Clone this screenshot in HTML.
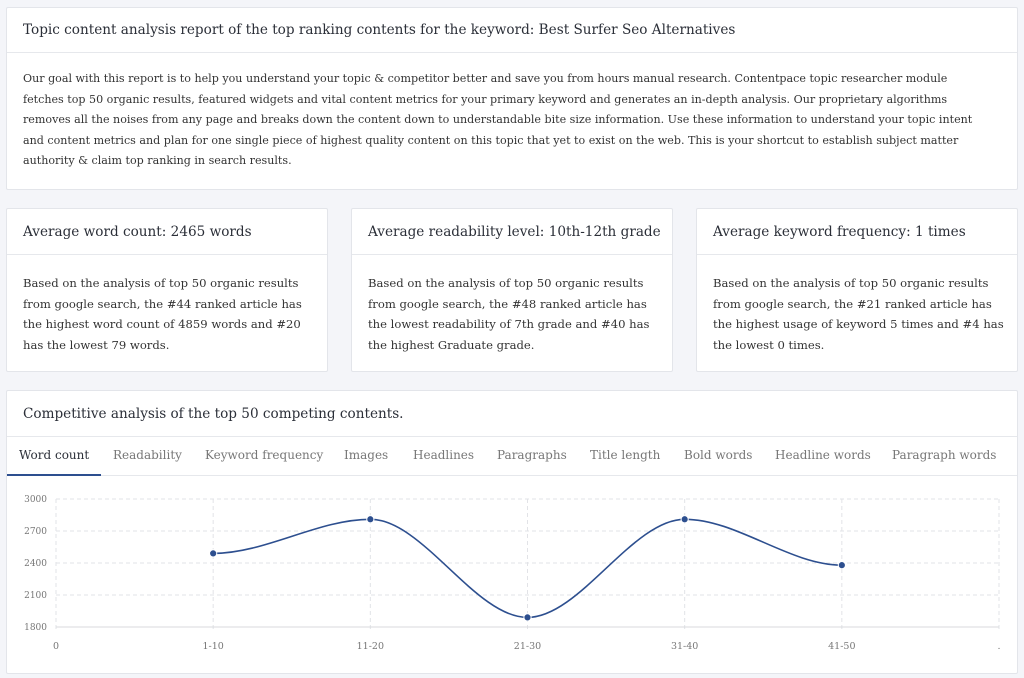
<!DOCTYPE html>
<html><head><meta charset="utf-8"><style>
*{box-sizing:border-box;margin:0;padding:0}
body{width:1024px;height:678px;background:#f4f5f9;font-family:"DejaVu Serif","Liberation Serif",serif;color:#2b2f38;position:relative;overflow:hidden}
.card{position:absolute;background:#fff;border:1px solid #e3e5ea;border-radius:2px}
.hd{position:absolute;left:0;right:0;top:0;border-bottom:1px solid #e6e8ec;padding-left:16px;font-size:13.6px;white-space:nowrap;color:#2b2f38}
.bd{position:absolute;left:16px;font-size:12px;line-height:20.6px;white-space:nowrap;color:#333}
.tab{position:absolute;top:448px;font-size:12px;color:#777;white-space:nowrap}
</style></head><body>
<div class="card" style="left:6px;top:7px;width:1012px;height:183px">
 <div class="hd" style="height:45px;line-height:44px">Topic content analysis report of the top ranking contents for the keyword: Best Surfer Seo Alternatives</div>
 <div class="bd" style="top:61px;font-size:11.1px">Our goal with this report is to help you understand your topic &amp; competitor better and save you from hours manual research. Contentpace topic researcher module<br>fetches top 50 organic results, featured widgets and vital content metrics for your primary keyword and generates an in-depth analysis. Our proprietary algorithms<br>removes all the noises from any page and breaks down the content down to understandable bite size information. Use these information to understand your topic intent<br>and content metrics and plan for one single piece of highest quality content on this topic that yet to exist on the web. This is your shortcut to establish subject matter<br>authority &amp; claim top ranking in search results.</div>
</div>
<div class="card" style="left:6px;top:208px;width:322px;height:164px">
 <div class="hd" style="height:46px;line-height:46px">Average word count: 2465 words</div>
 <div class="bd" style="top:64px;font-size:11.6px">Based on the analysis of top 50 organic results<br>from google search, the #44 ranked article has<br>the highest word count of 4859 words and #20<br>has the lowest 79 words.</div>
</div>
<div class="card" style="left:351px;top:208px;width:322px;height:164px">
 <div class="hd" style="height:46px;line-height:46px">Average readability level: 10th-12th grade</div>
 <div class="bd" style="top:64px;font-size:11.6px">Based on the analysis of top 50 organic results<br>from google search, the #48 ranked article has<br>the lowest readability of 7th grade and #40 has<br>the highest Graduate grade.</div>
</div>
<div class="card" style="left:696px;top:208px;width:322px;height:164px">
 <div class="hd" style="height:46px;line-height:46px">Average keyword frequency: 1 times</div>
 <div class="bd" style="top:64px;font-size:11.6px">Based on the analysis of top 50 organic results<br>from google search, the #21 ranked article has<br>the highest usage of keyword 5 times and #4 has<br>the lowest 0 times.</div>
</div>
<div class="card" style="left:6px;top:390px;width:1012px;height:284px">
 <div class="hd" style="height:46px;line-height:46px">Competitive analysis of the top 50 competing contents.</div>
 <div style="position:absolute;left:0;right:0;top:84px;border-top:1px solid #e6e8ec"></div>
 <div style="position:absolute;left:0;width:94px;top:83px;height:2px;background:#2d4f8f"></div>
</div>
<div class="tab" style="left:19px;color:#2b2f38">Word count</div>
<div class="tab" style="left:113px">Readability</div>
<div class="tab" style="left:205px">Keyword frequency</div>
<div class="tab" style="left:344px">Images</div>
<div class="tab" style="left:413px">Headlines</div>
<div class="tab" style="left:497px">Paragraphs</div>
<div class="tab" style="left:590px">Title length</div>
<div class="tab" style="left:684px">Bold words</div>
<div class="tab" style="left:775px">Headline words</div>
<div class="tab" style="left:892px">Paragraph words</div>
<svg id="chart" width="1024" height="678" style="position:absolute;left:0;top:0" font-family="DejaVu Serif, Liberation Serif, serif"></svg>
<script>
const categories=["0","1-10","11-20","21-30","31-40","41-50","."];
const values=[null,2490,2810,1890,2810,2380,null];
const yTicks=[1800,2100,2400,2700,3000];
const svg=document.getElementById('chart');
const NS='http://www.w3.org/2000/svg';
const X0=56,X1=999,Y0=627,Y1=499,YMIN=1800,YMAX=3000;
const xs=i=>X0+(X1-X0)*i/(categories.length-1);
const ys=v=>Y0-(v-YMIN)/(YMAX-YMIN)*(Y0-Y1);
function mk(t,a){const e=document.createElementNS(NS,t);for(const k in a)e.setAttribute(k,a[k]);svg.appendChild(e);return e;}
yTicks.forEach(v=>{
 const l=mk('line',{x1:X0,x2:X1,y1:ys(v),y2:ys(v),stroke:'#e2e3e7','stroke-dasharray':'4,3'});
 
 
 const t=mk('text',{x:47,y:ys(v)+3,'text-anchor':'end','font-size':9,fill:'#777'});t.textContent=v;
 
 
});
categories.forEach((c,i)=>{
 const l=mk('line',{x1:xs(i),x2:xs(i),y1:Y1,y2:Y0+5,stroke:'#e2e3e7','stroke-dasharray':'4,3'});
 
 
 const t=mk('text',{x:xs(i),y:649,'text-anchor':'middle','font-size':9.5,fill:'#777'});t.textContent=c;
 
 
});
const ax=mk('line',{x1:X0,x2:X1,y1:Y0,y2:Y0,stroke:'#d8dade'});


const pts=[];values.forEach((v,i)=>{if(v!=null)pts.push([xs(i),ys(v)]);});
let d='M'+pts[0][0]+','+pts[0][1];
for(let i=0;i<pts.length-1;i++){
 const p0=pts[Math.max(0,i-1)],p1=pts[i],p2=pts[i+1],p3=pts[Math.min(pts.length-1,i+2)];
 const dx=(p2[0]-p1[0])/3;
 const m1=(i===0)?0:(p2[1]-p0[1])/(p2[0]-p0[0]);
 const m2=(i+1===pts.length-1)?0:(p3[1]-p1[1])/(p3[0]-p1[0]);
 const s1=(Math.sign(p1[1]-p0[1])!==Math.sign(p2[1]-p1[1])&&i>0)?0:m1;
 const s2=(i+1<pts.length-1&&Math.sign(p2[1]-p1[1])!==Math.sign(p3[1]-p2[1]))?0:m2;
 d+=' C'+(p1[0]+dx)+','+(p1[1]+s1*dx)+' '+(p2[0]-dx)+','+(p2[1]-s2*dx)+' '+p2[0]+','+p2[1];
}
const line=mk('path',{d:d,fill:'none',stroke:'#2d4f8f','stroke-width':1.6});


pts.forEach(p=>{
 const c=mk('circle',{cx:p[0],cy:p[1],r:3.6,fill:'#2d4f8f',stroke:'#fff','stroke-width':1});
 
 
});
</script>
</body></html>
